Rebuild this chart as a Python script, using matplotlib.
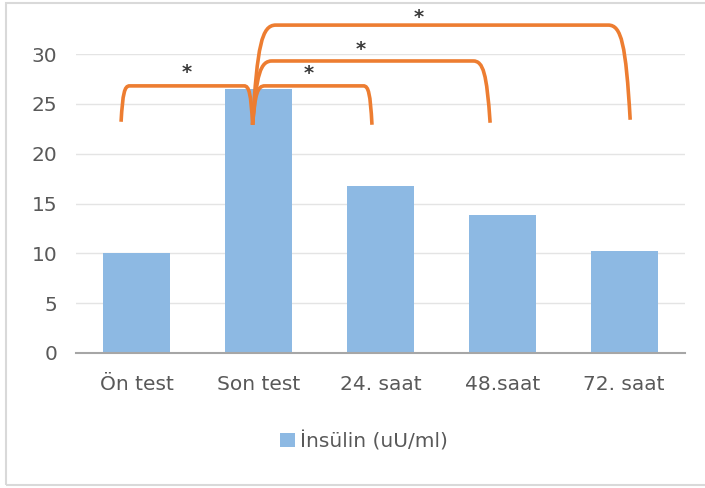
import matplotlib
matplotlib.use("Agg")
import matplotlib.pyplot as plt
from matplotlib.path import Path
from matplotlib.patches import PathPatch, Rectangle

categories = ["Ön test", "Son test", "24. saat", "48.saat", "72. saat"]
insulin = [10.0, 26.5, 16.8, 13.8, 10.2]
series_name = "İnsülin (uU/ml)"
yticks = [0, 5, 10, 15, 20, 25, 30]

# significance brackets: (left bottom x, left corner x, right corner x, right bottom x, top y, left bottom y, right bottom y)
brackets = [
    (-0.13, -0.06, 0.88, 0.95, 26.8, 23.2, 22.9),
    (0.95, 1.05, 1.86, 1.93, 26.8, 22.9, 22.9),
    (0.95, 1.11, 2.76, 2.90, 29.3, 22.9, 23.1),
    (0.95, 1.14, 3.87, 4.05, 32.9, 22.9, 23.4),
]
stars = [(0.41, 28.5), (1.41, 28.4), (1.84, 30.8), (2.31, 34.0)]

plt.rcParams['font.family'] = ['DejaVu Sans']
txt = '#595959'
fs = 14.5

fig = plt.figure(figsize=(7.05, 4.88), dpi=100)
ax = fig.add_axes([76/705, 1-353/488, (685-76)/705, (353-54)/488])

x = list(range(len(categories)))
ax.bar(x, insulin, width=0.55, color='#8db9e3', zorder=2, label=series_name)
ax.set_xlim(-0.5, len(categories)-0.5)
ax.set_ylim(0, 30)
ax.set_yticks(yticks)
ax.set_xticks(x)
ax.set_xticklabels(categories)
ax.yaxis.grid(True, color='#e4e4e4', lw=1.0, zorder=0)
ax.set_axisbelow(True)
for s in ['left', 'right', 'top']:
    ax.spines[s].set_visible(False)
ax.spines['bottom'].set_color('#a6a6a6')
ax.spines['bottom'].set_linewidth(1.5)
ax.tick_params(axis='both', length=0, labelsize=fs, colors=txt)
ax.tick_params(axis='y', pad=13.5)
ax.tick_params(axis='x', pad=16)

orange = '#ED7D31'
for (x0, xc, xs, x1, yt, yb0, yb1) in brackets:
    dxl = xc - x0
    dyl = yt - yb0
    dxr = x1 - xs
    dyr = yt - yb1
    verts = [
        (x0, yb0),
        (x0 + 0.2*dxl, yb0 + 0.8*dyl), (x0 + 0.4*dxl, yt), (xc, yt),
        (xs, yt),
        (xs + 0.6*dxr, yt), (xs + 0.8*dxr, yb1 + 0.8*dyr), (x1, yb1),
    ]
    codes = [Path.MOVETO, Path.CURVE4, Path.CURVE4, Path.CURVE4,
             Path.LINETO, Path.CURVE4, Path.CURVE4, Path.CURVE4]
    patch = PathPatch(Path(verts, codes), facecolor='none', edgecolor=orange,
                      lw=2.6, clip_on=False, zorder=5, capstyle='butt')
    ax.add_patch(patch)

for sx, sy in stars:
    ax.text(sx, sy - 0.9, '*', ha='center', va='baseline', fontsize=14,
            fontweight='bold', color='#3a3a3a', family='DejaVu Sans',
            clip_on=False, zorder=6)

leg = fig.legend(loc='center', bbox_to_anchor=(364/705, 1-441/488), frameon=False,
                 fontsize=fs, handlelength=0.7, handleheight=0.7, handletextpad=0.25)
for t in leg.get_texts():
    t.set_color(txt)

fig.patches.append(Rectangle((6/705, 1-485/488), 1.0, (485-3)/488,
                             transform=fig.transFigure, fill=False,
                             edgecolor='#d9d9d9', lw=1.5))

fig.savefig('out.png', dpi=100)
